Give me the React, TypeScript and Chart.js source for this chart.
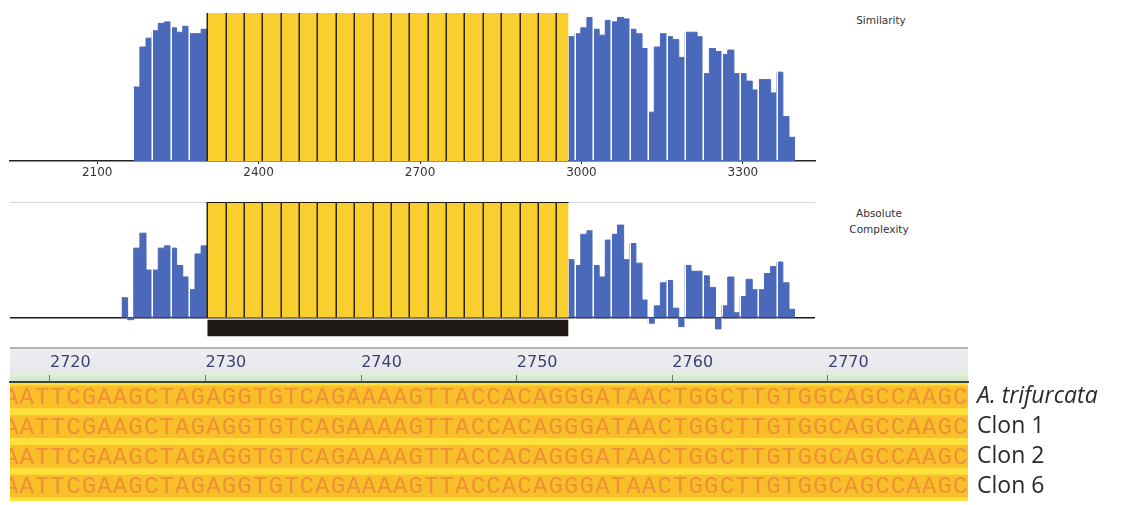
import React, { useEffect, useRef } from 'react';
import { Chart, registerables } from 'chart.js';
Chart.register(...registerables);

// ---------------- data ----------------
// shared position axis of the two profile plots (alignment positions)
const axisMin = 1938;
const axisMax = 3434;
const simTicks = [2100, 2400, 2700, 3000, 3300];
// sliding windows: first window start and size; each window holds 3 bars
const binStart = 2168;
const binWidth = 11.38;
const windowSize = 34.14;
const windowCount = 35;
// identical region (yellow) and its marker track
const identStart = 2304.6;
const identEnd = 2976;
const identValue = 100;
const trackTop = -2;
const trackBottom = -16.4;

// Similarity (%) - bars left and right of the identical region
const simLeftFirstBin = 0;
const simLeft = [50, 77, 83, 88, 93, 94, 90, 87, 91, 86, 86, 89];
const simRightFirstBin = 71;
const simRight = [84, 86, 90, 97, 89, 85, 95, 94, 97, 96, 89, 86, 76, 33, 77, 86, 84, 82, 70, 87, 87, 84, 59, 76, 74, 72, 75, 59, 59, 54, 48, 55, 55, 46, 60, 30, 16];

// Absolute complexity (%)
const cplxLeftFirstBin = -2;
const cplxLeft = [17, -2, 60, 73, 41, 41, 60, 62, 60, 45, 35, 24, 55, 62];
const cplxRightFirstBin = 71;
const cplxRight = [50, 45, 72, 75, 45, 35, 67, 72, 80, 50, 64, 47, 15, -5, 10, 30, 32, 8, -8, 45, 40, 40, 36, 26, -10, 10, 35, 4, 18, 33, 24, 24, 38, 44, 48, 30, 7];

// sequence alignment
const rulerMin = 2717.43;
const rulerMax = 2779;
const rulerTicks = [2720, 2730, 2740, 2750, 2760, 2770];
const seqStart = 2717;
const rowNames = ['A. trifurcata', 'Clon 1', 'Clon 2', 'Clon 6'];
const sequences = [
  'AATTCGAAGCTAGAGGTGTCAGAAAAGTTACCACAGGGATAACTGGCTTGTGGCAGCCAAGC',
  'AATTCGAAGCTAGAGGTGTCAGAAAAGTTACCACAGGGATAACTGGCTTGTGGCAGCCAAGC',
  'AATTCGAAGCTAGAGGTGTCAGAAAAGTTACCACAGGGATAACTGGCTTGTGGCAGCCAAGC',
  'AATTCGAAGCTAGAGGTGTCAGAAAAGTTACCACAGGGATAACTGGCTTGTGGCAGCCAAGC',
];

// ---------------- styles ----------------
const BLUE = '#4a69bb';
const YELLOW = '#f8cf2f';
const DARK = '#2d2412';

function stepData(first: number, values: number[]) {
  const pts = values.map((v, i) => ({ x: binStart + (first + i) * binWidth, y: v }));
  pts.push({ x: binStart + (first + values.length) * binWidth, y: values[values.length - 1] });
  return pts;
}

function blueDataset(first: number, values: number[]) {
  return {
    data: stepData(first, values),
    stepped: true,
    fill: 'origin',
    backgroundColor: BLUE,
    borderColor: BLUE,
    borderWidth: 1,
    pointRadius: 0,
  } as any;
}

const windowsPlugin = {
  id: 'windows',
  afterDatasetsDraw(chart: any) {
    const { ctx, chartArea: ca, scales } = chart;
    const x = scales.x;
    const y = scales.y;
    const base = y.getPixelForValue(0);
    const top = y.getPixelForValue(identValue);
    ctx.save();
    ctx.beginPath();
    ctx.rect(ca.left, ca.top, ca.right - ca.left, ca.bottom - ca.top);
    ctx.clip();
    ctx.lineWidth = 1.5;
    for (let k = 1; k <= windowCount; k++) {
      const pos = binStart + k * windowSize;
      const px = Math.round(x.getPixelForValue(pos)) + 0.25;
      const inIdent = pos >= identStart - 0.5 && pos <= identEnd;
      ctx.beginPath();
      if (inIdent) {
        ctx.strokeStyle = DARK;
        ctx.moveTo(px, top);
        ctx.lineTo(px, base);
      } else {
        ctx.strokeStyle = '#ffffff';
        ctx.moveTo(px, ca.top + 2);
        ctx.lineTo(px, base - 1);
        ctx.moveTo(px, base + 1);
        ctx.lineTo(px, ca.bottom);
      }
      ctx.stroke();
    }
    ctx.restore();
  },
};

const seqPlugin = {
  id: 'seq',
  beforeDraw(chart: any) {
    const { ctx, chartArea: ca, scales } = chart;
    const x = scales.x;
    ctx.save();
    const top = x.bottom - 35;
    ctx.fillStyle = '#b4b4b4';
    ctx.fillRect(ca.left, top, ca.right - ca.left, 2);
    const g = ctx.createLinearGradient(0, top + 2, 0, x.bottom);
    g.addColorStop(0, '#eeeef2');
    g.addColorStop(0.62, '#e7e8ec');
    g.addColorStop(0.72, '#e2efdc');
    g.addColorStop(1, '#cfe6c6');
    ctx.fillStyle = g;
    ctx.fillRect(ca.left, top + 2, ca.right - ca.left, x.bottom - top - 2);
    ctx.fillStyle = '#fde03c';
    ctx.fillRect(ca.left, ca.top, ca.right - ca.left, ca.bottom - ca.top);
    ctx.restore();
  },
  afterDatasetsDraw(chart: any) {
    const { ctx, chartArea: ca, scales } = chart;
    const x = scales.x;
    const y = scales.y;
    ctx.save();
    ctx.beginPath();
    ctx.rect(ca.left, ca.top, ca.right - ca.left, ca.bottom - ca.top);
    ctx.clip();
    ctx.font = '24px "Liberation Mono"';
    ctx.fillStyle = 'rgba(236,132,56,0.8)';
    ctx.textAlign = 'center';
    ctx.textBaseline = 'middle';
    (ctx as any).filter = 'blur(0.4px)';
    sequences.forEach((s, r) => {
      const py = y.getPixelForValue(r) + 1;
      for (let k = 0; k < s.length; k++) {
        ctx.fillText(s[k], x.getPixelForValue(seqStart + k + 0.5), py);
      }
    });
    ctx.restore();
  },
};

export default function App() {
  const simRef = useRef<HTMLCanvasElement>(null);
  const cplxRef = useRef<HTMLCanvasElement>(null);
  const seqRef = useRef<HTMLCanvasElement>(null);

  useEffect(() => {
    const charts: Chart[] = [];

    charts.push(
      new Chart(simRef.current as HTMLCanvasElement, {
        type: 'line',
        data: {
          datasets: [
            blueDataset(simLeftFirstBin, simLeft),
            blueDataset(simRightFirstBin, simRight),
            {
              data: [{ x: identStart, y: identValue }, { x: identEnd, y: identValue }],
              fill: 'origin',
              backgroundColor: YELLOW,
              borderWidth: 0,
              pointRadius: 0,
            } as any,
          ],
        },
        options: {
          animation: false,
          responsive: false,
          maintainAspectRatio: false,
          layout: { padding: { left: 10, right: 15, top: 13, bottom: 0 } },
          plugins: { legend: { display: false }, tooltip: { enabled: false } },
          scales: {
            x: {
              type: 'linear',
              min: axisMin,
              max: axisMax,
              z: 1,
              afterBuildTicks: (s: any) => {
                s.ticks = simTicks.map((v) => ({ value: v }));
              },
              afterFit: (s: any) => {
                s.height = 29;
              },
              grid: { drawOnChartArea: false, drawTicks: true, tickLength: 3, color: '#222' },
              border: { color: '#222', width: 1.5 },
              ticks: {
                callback: (v: any) => String(v),
                font: { family: 'DejaVu Sans', size: 12 },
                color: '#333',
                padding: 2,
                maxRotation: 0,
                autoSkip: false,
              },
            } as any,
            y: { display: false, min: 0, max: 100 },
          },
        },
        plugins: [windowsPlugin],
      })
    );

    charts.push(
      new Chart(cplxRef.current as HTMLCanvasElement, {
        type: 'line',
        data: {
          datasets: [
            blueDataset(cplxLeftFirstBin, cplxLeft),
            blueDataset(cplxRightFirstBin, cplxRight),
            {
              data: [{ x: identStart, y: identValue }, { x: identEnd, y: identValue }],
              fill: 'origin',
              backgroundColor: YELLOW,
              borderColor: '#1d1610',
              borderWidth: 2,
              pointRadius: 0,
            } as any,
            {
              data: [{ x: identStart, y: trackTop }, { x: identEnd, y: trackTop }],
              fill: { value: trackBottom },
              backgroundColor: '#1f1714',
              borderWidth: 0,
              pointRadius: 0,
            } as any,
          ],
        },
        options: {
          animation: false,
          responsive: false,
          maintainAspectRatio: false,
          layout: { padding: { left: 10, right: 15, top: 12, bottom: 3 } },
          plugins: { legend: { display: false }, tooltip: { enabled: false } },
          scales: {
            x: { type: 'linear', min: axisMin, max: axisMax, display: false },
            y: {
              min: -17,
              max: 100,
              afterBuildTicks: (s: any) => {
                s.ticks = [{ value: 0 }, { value: 100 }];
              },
              afterFit: (s: any) => {
                s.width = 0;
              },
              ticks: { display: false },
              grid: {
                drawTicks: false,
                color: (c: any) => (c.tick && c.tick.value === 0 ? '#1a1a1a' : '#d6d6d6'),
                lineWidth: (c: any) => (c.tick && c.tick.value === 0 ? 1.5 : 1),
              },
              border: { display: false },
            } as any,
          },
        },
        plugins: [windowsPlugin],
      })
    );

    charts.push(
      new Chart(seqRef.current as HTMLCanvasElement, {
        type: 'bar',
        data: {
          labels: rowNames,
          datasets: [
            {
              data: sequences.map((s) => [seqStart, seqStart + s.length]) as any,
              backgroundColor: '#f9bf2a',
              borderWidth: 0,
              barPercentage: 0.76,
              categoryPercentage: 1,
            },
          ],
        },
        options: {
          indexAxis: 'y',
          animation: false,
          responsive: false,
          maintainAspectRatio: false,
          layout: { padding: { left: 10, right: 0, top: 0, bottom: 4 } },
          plugins: { legend: { display: false }, tooltip: { enabled: false } },
          scales: {
            x: {
              type: 'linear',
              position: 'top',
              min: rulerMin,
              max: rulerMax,
              afterBuildTicks: (s: any) => {
                s.ticks = rulerTicks.map((v) => ({ value: v }));
              },
              afterFit: (s: any) => {
                s.height = 42;
                s.paddingLeft = 0;
                s.paddingRight = 0;
              },
              ticks: {
                align: 'start',
                callback: (v: any) => String(v),
                font: { family: 'DejaVu Sans', size: 16 },
                color: '#3d3f6e',
                padding: 3,
                maxRotation: 0,
                autoSkip: false,
              },
              grid: { drawOnChartArea: false, tickLength: 7, color: '#6a7a6a' },
              border: { color: '#3b463b', width: 2 },
            } as any,
            y: {
              type: 'category',
              position: 'right',
              offset: true,
              afterFit: (s: any) => {
                s.width = 160;
                s.paddingTop = 0;
                s.paddingBottom = 0;
              },
              grid: { display: false, drawTicks: false },
              border: { display: false },
              ticks: {
                autoSkip: false,
                padding: 9,
                color: '#2a2a2a',
                font: (c: any) => ({
                  family: 'Open Sans',
                  size: 23,
                  style: c.index === 0 ? 'italic' : 'normal',
                }),
              },
            } as any,
          },
        },
        plugins: [seqPlugin],
      })
    );

    return () => charts.forEach((c) => c.destroy());
  }, []);

  const label: React.CSSProperties = {
    position: 'absolute',
    fontFamily: 'DejaVu Sans, sans-serif',
    fontSize: 10.5,
    color: '#333',
    textAlign: 'center',
    lineHeight: '16px',
  };

  return (
    <div style={{ position: 'absolute', left: 0, top: 0, width: 1128, height: 505, background: '#fff', overflow: 'hidden' }}>
      <canvas ref={simRef} width={830} height={190} style={{ position: 'absolute', left: 0, top: 0 }} />
      <canvas ref={cplxRef} width={830} height={150} style={{ position: 'absolute', left: 0, top: 190 }} />
      <canvas ref={seqRef} width={1128} height={165} style={{ position: 'absolute', left: 0, top: 340 }} />
      <div style={{ ...label, left: 838, top: 12, width: 86 }}>Similarity</div>
      <div style={{ ...label, left: 836, top: 205, width: 86 }}>
        Absolute
        <br />
        Complexity
      </div>
    </div>
  );
}
